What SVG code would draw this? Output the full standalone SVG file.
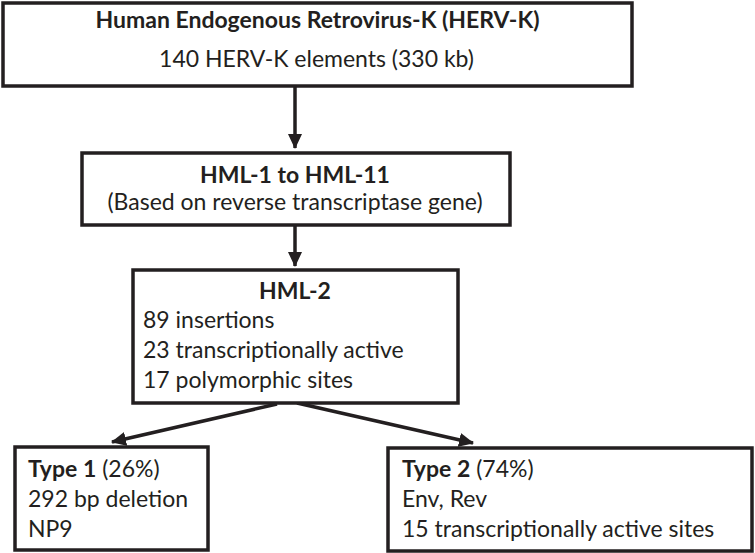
<svg xmlns="http://www.w3.org/2000/svg" width="755" height="553" viewBox="0 0 755 553">
<style>
.box{fill:#fff;stroke:#231f20;stroke-width:3.5}
text{font-family:Lato,"Open Sans",sans-serif;font-size:23px;fill:#231f20}
.b{font-weight:bold}
.c{text-anchor:middle}
.con{stroke:#231f20;stroke-width:3.5;fill:none}
</style>
<defs>
<marker id="ah" markerUnits="userSpaceOnUse" markerWidth="16" markerHeight="16" viewBox="0 0 16 16" refX="14" refY="8" orient="auto">
<path d="M0,1 L15,8 L0,15 Z" fill="#231f20"/>
</marker>
</defs>
<rect width="755" height="553" fill="#fff"/>
<g id="connectors">
<line class="con" x1="295" y1="86" x2="295" y2="148" marker-end="url(#ah)"/>
<line class="con" x1="295" y1="225" x2="295" y2="266" marker-end="url(#ah)"/>
<line class="con" x1="277" y1="404" x2="112" y2="442" marker-end="url(#ah)"/>
<line class="con" x1="297" y1="403" x2="473" y2="443" marker-end="url(#ah)"/>
</g>
<g id="herv-k">
<rect class="box" x="3" y="3" width="629" height="83"/>
<text class="b c" x="317.5" y="28">Human Endogenous Retrovirus-K (HERV-K)</text>
<text class="c" x="316.5" y="67">140 HERV-K elements (330 kb)</text>
</g>
<g id="hml-1-11">
<rect class="box" x="82" y="153" width="428" height="72"/>
<text class="b c" x="295" y="183">HML-1 to HML-11</text>
<text class="c" x="295" y="210">(Based on reverse transcriptase gene)</text>
</g>
<g id="hml-2">
<rect class="box" x="133" y="270" width="325" height="133"/>
<text class="b c" x="295" y="299">HML-2</text>
<text x="143" y="328">89 insertions</text>
<text x="143" y="358">23 transcriptionally active</text>
<text x="143" y="388">17 polymorphic sites</text>
</g>
<g id="type1">
<rect class="box" x="15" y="447" width="193" height="103"/>
<text x="28" y="477"><tspan class="b">Type 1</tspan> (26%)</text>
<text x="28" y="507">292 bp deletion</text>
<text x="28" y="537">NP9</text>
</g>
<g id="type2">
<rect class="box" x="388" y="448" width="364" height="103"/>
<text x="402" y="477"><tspan class="b">Type 2</tspan> (74%)</text>
<text x="402" y="507">Env, Rev</text>
<text x="402" y="537">15 transcriptionally active sites</text>
</g>
</svg>
